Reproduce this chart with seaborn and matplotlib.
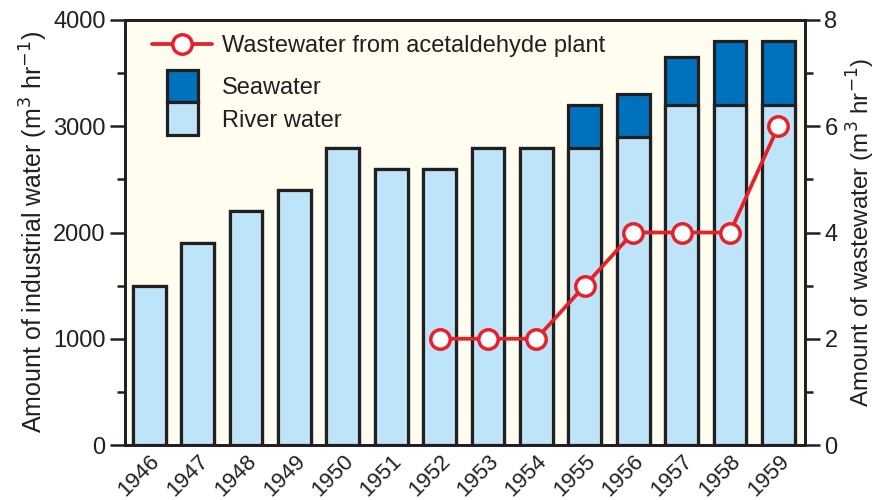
import matplotlib
matplotlib.use("Agg")
import matplotlib.pyplot as plt
import seaborn as sns
import numpy as np
import pandas as pd
from matplotlib.lines import Line2D
from matplotlib.patches import Patch, Rectangle
from matplotlib.legend_handler import HandlerPatch
from matplotlib.ticker import MultipleLocator

years = ["1946", "1947", "1948", "1949", "1950", "1951", "1952",
         "1953", "1954", "1955", "1956", "1957", "1958", "1959"]
river = [1500, 1900, 2200, 2400, 2800, 2600, 2600, 2800, 2800, 2800, 2900, 3200, 3200, 3200]
seawater = [0, 0, 0, 0, 0, 0, 0, 0, 0, 400, 400, 450, 600, 600]
wastewater = [np.nan, np.nan, np.nan, np.nan, np.nan, np.nan, 2, 2, 2, 3, 4, 4, 4, 6]

sns.set_theme(style="ticks")
plt.rcParams['font.family'] = ['Liberation Sans', 'DejaVu Sans']

C_RIVER = "#bde4f8"
C_SEA = "#0071bc"
C_EDGE = "#231f20"
C_RED = "#e8202a"
C_BG = "#fffdf0"
C_TXT = "#231f20"
FS = 17

total = [r + s for r, s in zip(river, seawater)]
df = pd.DataFrame({"year": years, "river": river, "total": total, "waste": wastewater})

fig = plt.figure(figsize=(8.8, 5.0), dpi=100)
ax = fig.add_axes([125/880, 55/500, 680/880, 425/500])
ax.set_facecolor(C_BG)

sns.barplot(data=df, x="year", y="total", ax=ax, color=C_SEA, saturation=1,
            edgecolor=C_EDGE, linewidth=2.3, width=0.68)
sns.barplot(data=df, x="year", y="river", ax=ax, color=C_RIVER, saturation=1,
            edgecolor=C_EDGE, linewidth=2.3, width=0.68)

ax.set_xlim(-0.5, 13.55)
ax.set_ylim(0, 4000)
ax.yaxis.set_major_locator(MultipleLocator(1000))
ax.yaxis.set_minor_locator(MultipleLocator(500))
ax.set_xlabel("")
ax.set_ylabel("Amount of industrial water (m$^3$ hr$^{-1}$)", fontsize=18, color=C_TXT, labelpad=2)
ax.tick_params(axis='y', which='major', length=11, width=1.8, labelsize=FS, colors=C_EDGE, labelcolor=C_TXT, pad=3)
ax.tick_params(axis='y', which='minor', length=6, width=1.8, colors=C_EDGE)
ax.tick_params(axis='x', length=0, labelsize=16, labelcolor=C_TXT, pad=4)
for lab in ax.get_xticklabels():
    lab.set_rotation(45)
    lab.set_ha('right')
    lab.set_rotation_mode('anchor')
for sp in ax.spines.values():
    sp.set_visible(True)
    sp.set_linewidth(2.0)
    sp.set_color(C_EDGE)

ax2 = ax.twinx()
pos = np.arange(len(years))
sns.lineplot(x=pos, y=df["waste"].values, ax=ax2, color=C_RED, linewidth=2.7,
             marker='o', markersize=14, markerfacecolor='white',
             markeredgecolor=C_RED, markeredgewidth=2.5)
ax2.set_ylim(0, 8)
ax2.yaxis.set_major_locator(MultipleLocator(2))
ax2.yaxis.set_minor_locator(MultipleLocator(1))
ax2.set_ylabel("Amount of wastewater (m$^3$ hr$^{-1}$)", fontsize=17.5, color=C_TXT, labelpad=5)
ax2.tick_params(axis='y', which='major', length=11, width=1.8, labelsize=FS, colors=C_EDGE, labelcolor=C_TXT, pad=3)
ax2.tick_params(axis='y', which='minor', length=6, width=1.8, colors=C_EDGE)
for sp in ax2.spines.values():
    sp.set_linewidth(2.0)
    sp.set_color(C_EDGE)
ax.set_xlim(-0.5, 13.55)

# legends
line_h = Line2D([0], [0], color=C_RED, linewidth=2.7, marker='o', markersize=14,
                markerfacecolor='white', markeredgecolor=C_RED, markeredgewidth=2.5)
leg1 = ax2.legend([line_h], ["Wastewater from acetaldehyde plant"],
                  loc='upper left', bbox_to_anchor=(0.04, 0.965), frameon=False,
                  fontsize=FS, handlelength=2.55, handletextpad=0.4, borderaxespad=0,
                  borderpad=0)
for t in leg1.get_texts():
    t.set_color(C_TXT)
ax2.add_artist(leg1)


def make_rect(legend, orig_handle, xdescent, ydescent, width, height, fontsize):
    w = 22.0
    h = 23.5
    xc = width / 2 - xdescent
    yc = height / 2 - ydescent
    return Rectangle((xc - w / 2, yc - h / 2), w, h)


sea_h = Patch(facecolor=C_SEA, edgecolor=C_EDGE, linewidth=2.3)
riv_h = Patch(facecolor=C_RIVER, edgecolor=C_EDGE, linewidth=2.3)
leg2 = ax2.legend([sea_h, riv_h], ["Seawater", "River water"],
                  loc='upper left', bbox_to_anchor=(0.04, 0.865), frameon=False,
                  fontsize=FS, handlelength=2.55, handletextpad=0.4, borderaxespad=0,
                  borderpad=0, labelspacing=0.45,
                  handler_map={Patch: HandlerPatch(patch_func=make_rect)})
for t in leg2.get_texts():
    t.set_color(C_TXT)

fig.savefig("out.png", dpi=100, facecolor='white')
